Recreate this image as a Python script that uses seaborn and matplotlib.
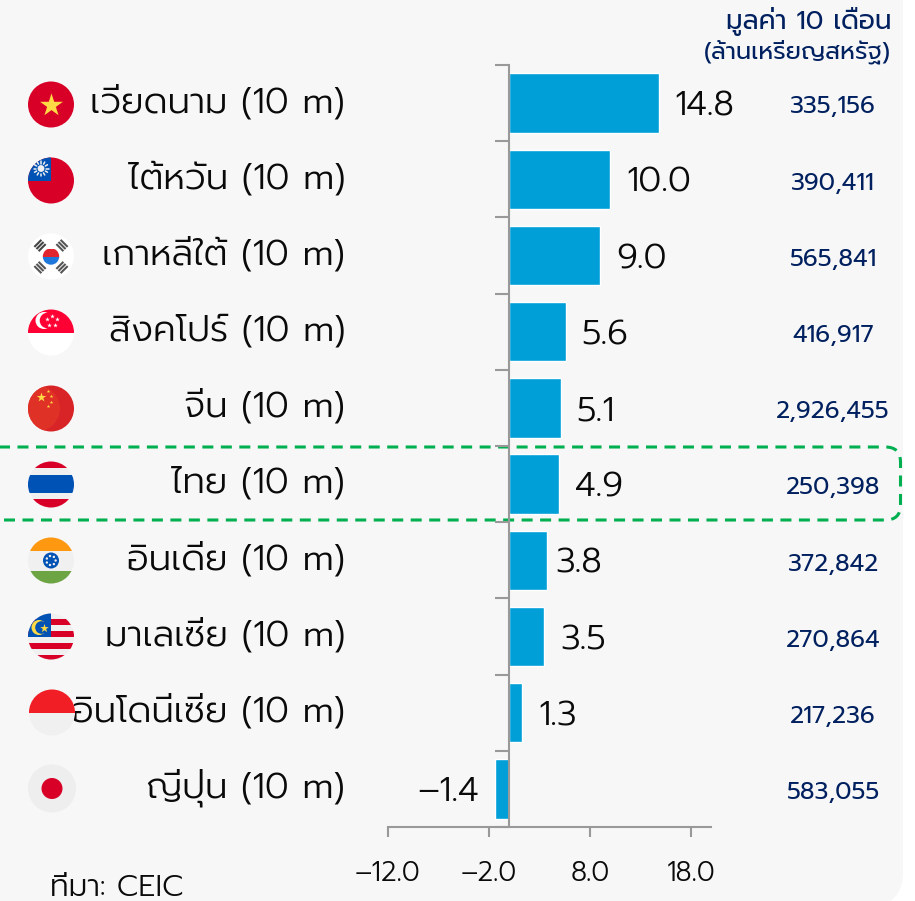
import numpy as np
import pandas as pd
import matplotlib
matplotlib.use('Agg')
import matplotlib.pyplot as plt
from matplotlib.patches import Circle, Rectangle, FancyBboxPatch
import seaborn as sns

countries = ['เวียดนาม', 'ไต้หวัน', 'เกาหลีใต้', 'สิงคโปร์', 'จีน', 'ไทย', 'อินเดีย', 'มาเลเซีย', 'อินโดนีเซีย', 'ญี่ปุ่น']
growth = [14.8, 10.0, 9.0, 5.6, 5.1, 4.9, 3.8, 3.5, 1.3, -1.4]
growth_labels = ['14.8', '10.0', '9.0', '5.6', '5.1', '4.9', '3.8', '3.5', '1.3', '–1.4']
export_value = ['335,156', '390,411', '565,841', '416,917', '2,926,455', '250,398', '372,842', '270,864', '217,236', '583,055']
period = '(10 m)'
x_ticks = [-12, -2, 8, 18]
x_tick_labels = ['–12.0', '–2.0', '8.0', '18.0']

W, H = 915, 901
BAR = '#009FD8'
NAVY = '#00205F'
INK = '#0A0A0A'
GREY = '#999999'
RED = '#D80027'
BLUE = '#0052B4'
PALE = '#F0F0F0'
GOLD = '#FFDA44'

sns.set_theme(style='white')
plt.rcParams['font.family'] = ['Prompt', 'DejaVu Sans']

df = pd.DataFrame({'country': countries, 'growth': growth})

fig = plt.figure(figsize=(W / 100, H / 100), dpi=100, facecolor='white')

# panel and highlight sit behind the chart, flags in front, both in pixel coords
back = fig.add_axes([0, 0, 1, 1], zorder=0)
front = fig.add_axes([0, 0, 1, 1], zorder=2)
for a in (back, front):
    a.set_xlim(0, W)
    a.set_ylim(H, 0)
    a.axis('off')
    a.patch.set_alpha(0)

back.add_patch(FancyBboxPatch((-60, -60), 963, 966, boxstyle='round,pad=0,rounding_size=34',
                              fc='#F7F7F7', ec='none'))
back.add_patch(FancyBboxPatch((-40, 447), 940.5, 73, boxstyle='round,pad=0,rounding_size=15',
                              fc='none', ec='#00B050', lw=2.2, ls=(0, (3.6, 2.45))))

ax = fig.add_axes([388 / W, 1 - 827 / H, (711 - 388) / W, (827 - 65) / H], zorder=1)
ax.patch.set_alpha(0)
sns.barplot(data=df, x='growth', y='country', color=BAR, saturation=1, width=0.78, ax=ax)
ax.set_xlim(-12, 20)
ax.set_ylim(len(countries) - 0.5, -0.5)
ax.set_xlabel('')
ax.set_ylabel('')

sns.despine(ax=ax, top=True, right=True)
ax.spines['left'].set_position(('data', 0))
for s in ('left', 'bottom'):
    ax.spines[s].set_color(GREY)
    ax.spines[s].set_linewidth(1.5)

ax.set_yticks(np.arange(-0.5, len(countries)))
ax.set_yticklabels([])
ax.tick_params(axis='y', left=True, length=10, width=1.5, color=GREY)
ax.set_xticks(x_ticks)
ax.set_xticklabels(x_tick_labels, fontsize=19.5, fontweight=300, color=INK)
ax.tick_params(axis='x', bottom=True, length=7.5, width=1.5, color=GREY, pad=16)

# text rows: x is tied to the axis, labels nudged a little off the bar
for i, (name, val, lab, usd) in enumerate(zip(countries, growth, growth_labels, export_value)):
    ax.text(-16.26, i - 0.01, f'{name} {period}', ha='right', va='center', fontsize=26,
            fontweight=300, color=INK, clip_on=False)
    side = 1 if val >= 0 else -1
    nudge = 8 if lab == '3.8' else 16
    ax.annotate(lab, (val, i + 0.05), xytext=(side * nudge * 0.72, 0), textcoords='offset points',
                ha='left' if val >= 0 else 'right', va='center', fontsize=25, fontweight=300, color=INK)
    ax.text(32.1, i + 0.05, usd, ha='center', va='center', fontsize=17.4, fontweight=400,
            color=NAVY, clip_on=False)

front.text(891, 22, 'มูลค่า 10 เดือน', ha='right', va='center', fontsize=19, fontweight=400, color=NAVY)
front.text(891, 52, '(ล้านเหรียญสหรัฐ)', ha='right', va='center', fontsize=17.4, fontweight=400, color=NAVY)
front.text(50, 888, 'ที่มา: CEIC', ha='left', va='center', fontsize=21.6, fontweight=300, color=INK)


def disc(cy, cx=51, r=23):
    return Circle((cx, cy), r, transform=front.transData, fc='none', ec='none')


def fill(cy, color, cx=51, r=23):
    front.add_patch(Circle((cx, cy), r, fc=color, ec='none'))


def band(cy, y0, y1, color, x0=20, x1=85, clip=None):
    p = Rectangle((x0, cy + y0), x1 - x0, y1 - y0, fc=color, ec='none')
    front.add_patch(p)
    p.set_clip_path(clip if clip is not None else disc(cy))


def star(x, y, size, color=GOLD):
    front.scatter([x], [y], marker='*', s=size, color=color, linewidths=0)


def flag_vietnam(cy):
    fill(cy, RED)
    star(51, cy, 300)


def flag_taiwan(cy):
    fill(cy, RED)
    band(cy, -24, 0, BLUE, x0=28, x1=51)
    for t in np.arange(0, 2 * np.pi, np.pi / 6):
        front.plot([41 + 5 * np.cos(t), 41 + 7.5 * np.cos(t)], [cy - 12 + 5 * np.sin(t), cy - 12 + 7.5 * np.sin(t)],
                   color=PALE, lw=1.1)
    front.add_patch(Circle((41, cy - 12), 4, fc=PALE, ec=BLUE, lw=0.8))


def flag_korea(cy):
    fill(cy, '#FFFFFF')
    band(cy, -8, 0, '#E0252F', clip=Circle((51, cy), 8.2, transform=front.transData))
    band(cy, 0, 8, '#1E78DC', clip=Circle((51, cy), 8.2, transform=front.transData))
    for ang, dx, dy, col in [(45, -11, -11, '#444444'), (-45, 11, -11, '#555555'), (-45, -11, 11, '#555555'), (45, 11, 11, '#555555')]:
        t = np.radians(ang)
        for k in (-3, 0, 3):
            cx = 51 + dx + k * np.cos(t)
            cy2 = cy + dy + k * np.sin(t)
            ux, uy = -np.sin(t) * 5, np.cos(t) * 5
            front.plot([cx - ux, cx + ux], [cy2 - uy, cy2 + uy], color=col, lw=1.5, solid_capstyle='butt')


def flag_singapore(cy):
    fill(cy, '#FFFFFF')
    band(cy, -24, 0, '#FF0035')
    front.add_patch(Circle((44, cy - 12), 8.5, fc='#FFFFFF', ec='none'))
    front.add_patch(Circle((47.5, cy - 12), 7.8, fc='#FF0035', ec='none'))
    for t in np.arange(0, 5) * 2 * np.pi / 5 - np.pi / 2:
        star(52 + 5 * np.cos(t), cy - 12 + 5 * np.sin(t), 12, '#FFFFFF')


def flag_china(cy):
    fill(cy, '#D82327')
    p = Circle((37, cy), 23, fc='#E03127', ec='none')
    front.add_patch(p)
    p.set_clip_path(disc(cy))
    star(41, cy - 12, 50)
    for dx, dy in [(48, -18), (51, -13), (51, -7), (48, -3)]:
        star(dx, cy + dy, 7)


def flag_thailand(cy):
    fill(cy, PALE)
    band(cy, -24, -16.5, RED)
    band(cy, -10, 8, BLUE)
    band(cy, 14.5, 24, RED)


def flag_india(cy):
    fill(cy, PALE)
    band(cy, -24, -10, '#FF9811')
    band(cy, 10, 24, '#6DA544')
    front.add_patch(Circle((51, cy), 8, fc=BLUE, ec='none'))
    for t in np.arange(0, 2 * np.pi, 2 * np.pi / 7):
        front.add_patch(Circle((51 + 4.6 * np.cos(t), cy + 4.6 * np.sin(t)), 1.2, fc=PALE, ec='none'))


def flag_malaysia(cy):
    fill(cy, PALE)
    for y0, y1 in [(-18, -12), (-6, 0), (6, 12), (18, 24)]:
        band(cy, y0, y1, RED)
    band(cy, -24, 0, BLUE, x0=28, x1=51)
    front.add_patch(Circle((39, cy - 9), 7.5, fc=GOLD, ec='none'))
    front.add_patch(Circle((41.5, cy - 9), 6.3, fc=BLUE, ec='none'))
    star(44, cy - 9, 42)


def flag_indonesia(cy):
    fill(cy, PALE, cx=52)
    band(cy, -24, 0, '#F21E26', clip=disc(cy, cx=52))


def flag_japan(cy):
    fill(cy, '#EEEEEE', cx=52, r=24)
    front.add_patch(Circle((52, cy), 10.5, fc=RED, ec='none'))


flags = [flag_vietnam, flag_taiwan, flag_korea, flag_singapore, flag_china,
         flag_thailand, flag_india, flag_malaysia, flag_indonesia, flag_japan]
for i, draw in enumerate(flags):
    draw(104.5 + i * 76.0)

front.set_xlim(0, W)
front.set_ylim(H, 0)

fig.savefig('out.png', dpi=100, facecolor='white')
